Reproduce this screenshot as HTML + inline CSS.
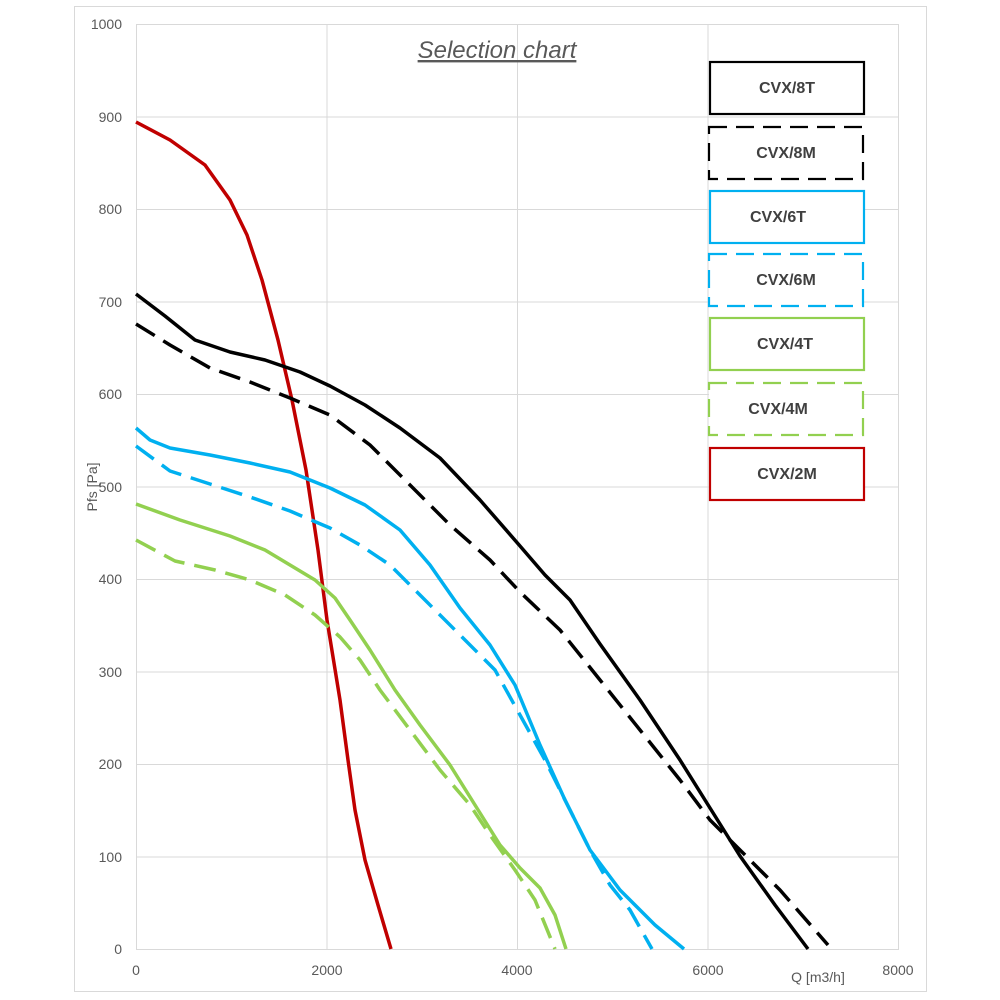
<!DOCTYPE html>
<html><head><meta charset="utf-8"><style>body{margin:0;background:#fff}svg{display:block}</style></head>
<body>
<svg width="1000" height="1000" viewBox="0 0 1000 1000" xmlns="http://www.w3.org/2000/svg" font-family="Liberation Sans, sans-serif">
<rect x="0" y="0" width="1000" height="1000" fill="#fff"/>
<rect x="74.5" y="6.5" width="852" height="985" fill="none" stroke="#d9d9d9" stroke-width="1"/>
<g stroke="#d9d9d9" stroke-width="1">
<line x1="136" y1="24.5" x2="898" y2="24.5"/>
<line x1="136" y1="117" x2="898" y2="117"/>
<line x1="136" y1="209.5" x2="898" y2="209.5"/>
<line x1="136" y1="302" x2="898" y2="302"/>
<line x1="136" y1="394.5" x2="898" y2="394.5"/>
<line x1="136" y1="487" x2="898" y2="487"/>
<line x1="136" y1="579.5" x2="898" y2="579.5"/>
<line x1="136" y1="672" x2="898" y2="672"/>
<line x1="136" y1="764.5" x2="898" y2="764.5"/>
<line x1="136" y1="857" x2="898" y2="857"/>
<line x1="136" y1="949.5" x2="898" y2="949.5"/>
<line x1="136.5" y1="24" x2="136.5" y2="950"/>
<line x1="327" y1="24" x2="327" y2="950"/>
<line x1="517.5" y1="24" x2="517.5" y2="950"/>
<line x1="708" y1="24" x2="708" y2="950"/>
<line x1="898.5" y1="24" x2="898.5" y2="950"/>
</g>
<g font-size="14" fill="#595959" text-anchor="end">
<text x="122" y="29">1000</text><text x="122" y="122">900</text><text x="122" y="214">800</text>
<text x="122" y="307">700</text><text x="122" y="399">600</text><text x="122" y="492">500</text>
<text x="122" y="584">400</text><text x="122" y="677">300</text><text x="122" y="769">200</text>
<text x="122" y="862">100</text><text x="122" y="954">0</text>
</g>
<g font-size="14" fill="#595959" text-anchor="middle">
<text x="136" y="975">0</text><text x="327" y="975">2000</text><text x="517" y="975">4000</text>
<text x="708" y="975">6000</text><text x="898" y="975">8000</text>
<text x="818" y="982">Q [m3/h]</text>
</g>
<text transform="translate(97,487) rotate(-90)" font-size="14" fill="#595959" text-anchor="middle">Pfs [Pa]</text>
<text x="497" y="58" font-size="24" font-style="italic" fill="#595959" text-anchor="middle" text-decoration="underline">Selection chart</text>
<g fill="none" stroke-width="3.5" stroke-linejoin="round" stroke-linecap="butt">
<polyline stroke="#c00000" points="136,122 170,140 205,165 230,200 247,235 262,280 278,340 292,400 306,470 318,550 327,620 340,700 348,760 355,810 365,860 378,905 391,949"/>
<polyline stroke="#000" points="136,294 165,316 195,340 230,352 265,360 300,372 330,386 365,405 400,428 440,458 480,500 520,546 545,575 570,600 600,644 640,700 680,760 710,808 740,856 775,905 808,949"/>
<polyline stroke="#000" stroke-dasharray="22,10" points="136,324 170,345 210,368 250,382 290,398 330,415 370,445 410,485 450,525 490,560 520,592 560,630 600,680 640,730 680,780 710,820 740,850 780,890 828,945"/>
<polyline stroke="#00b0f0" points="136,428 150,440 170,448 210,455 250,463 290,472 330,488 365,505 400,530 430,565 460,608 490,645 515,685 540,745 565,800 590,850 620,890 655,925 684,949"/>
<polyline stroke="#00b0f0" stroke-dasharray="22,10" points="136,446 170,471 210,484 250,497 290,511 330,528 360,545 390,565 420,595 460,635 495,670 520,715 545,760 570,810 590,850 610,885 630,910 652,949"/>
<polyline stroke="#92d050" points="136,504 180,520 230,536 265,550 290,565 315,580 335,598 350,620 370,650 395,690 420,725 450,765 475,805 500,845 520,868 540,888 555,915 566,949"/>
<polyline stroke="#92d050" stroke-dasharray="22,10" points="136,540 175,561 215,570 250,580 285,595 315,615 340,637 360,660 380,690 410,730 440,770 470,805 490,835 515,870 535,900 555,949"/>
</g>
<g fill="#fff" stroke-width="2.2">
<rect x="710" y="62" width="154" height="52" stroke="#000"/>
<rect x="709" y="127" width="154" height="52" stroke="#000" stroke-dasharray="18,9"/>
<rect x="710" y="191" width="154" height="52" stroke="#00b0f0"/>
<rect x="709" y="254" width="154" height="52" stroke="#00b0f0" stroke-dasharray="18,9"/>
<rect x="710" y="318" width="154" height="52" stroke="#92d050"/>
<rect x="709" y="383" width="154" height="52" stroke="#92d050" stroke-dasharray="18,9"/>
<rect x="710" y="448" width="154" height="52" stroke="#c00000"/>
</g>
<g font-size="16" font-weight="bold" fill="#404040" text-anchor="middle">
<text x="787" y="93">CVX/8T</text><text x="786" y="158">CVX/8M</text>
<text x="778" y="222">CVX/6T</text><text x="786" y="285">CVX/6M</text>
<text x="785" y="349">CVX/4T</text><text x="778" y="414">CVX/4M</text>
<text x="787" y="479">CVX/2M</text>
</g>
</svg>
</body></html>
